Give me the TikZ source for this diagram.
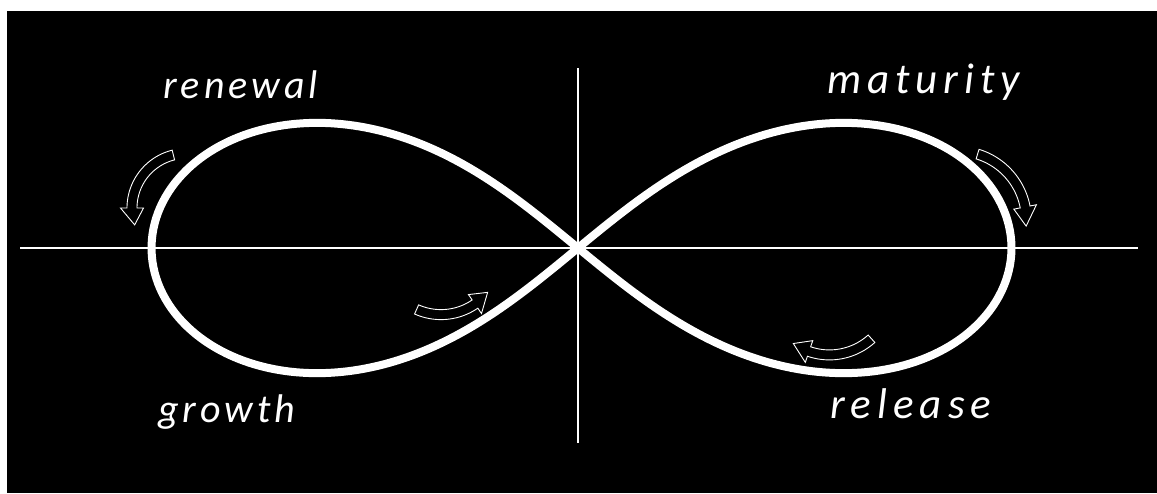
\documentclass[tikz,border=0pt]{standalone}
\usepackage{fontspec}
\newfontfamily\hand{Carlito}[LetterSpace=10]
\newfontfamily\handwide{Carlito}[LetterSpace=14]
\tikzset{
  loopline/.style={white,line width=8pt,line join=round},
  axisline/.style={white,line width=1.3pt},
  arrowline/.style={white,line width=0.9pt,fill=black,line join=miter},
  lbl/.style={white,font=\hand\itshape\fontsize{40}{40}\selectfont,inner sep=0pt},
  lblwide/.style={white,font=\handwide\itshape\fontsize{43}{43}\selectfont,inner sep=0pt}
}
% cx cy r a1 a2 a3 bandwidth headwidth
\newcommand\curvedhollowarrow[8]{%
  \draw[arrowline] plot[domain=#4:#5,samples=40] ({#1+(#3+#7/2)*cos(\x)},{#2+(#3+#7/2)*sin(\x)})
   -- ({#1+(#3+#8/2)*cos(#5)},{#2+(#3+#8/2)*sin(#5)})
   -- ({#1+#3*cos(#6)},{#2+#3*sin(#6)})
   -- ({#1+(#3-#8/2)*cos(#5)},{#2+(#3-#8/2)*sin(#5)})
   -- ({#1+(#3-#7/2)*cos(#5)},{#2+(#3-#7/2)*sin(#5)})
   -- plot[domain=#5:#4,samples=40] ({#1+(#3-#7/2)*cos(\x)},{#2+(#3-#7/2)*sin(\x)})
   -- cycle;}
\begin{document}
\begin{tikzpicture}[x=1pt,y=-1pt]
\useasboundingbox (0,0) rectangle (1157,493);
\fill[black] (7,11) rectangle (1157,493);
% axes
\coordinate (hl) at (20,248);
\coordinate (hr) at (1138,248);
\coordinate (vt) at (578,68);
\coordinate (vb) at (578,443);
\draw[axisline] (hl) -- (hr);
\draw[axisline] (vt) -- (vb);
% infinity loop
\draw[loopline] plot[domain=0:360,samples=400]
  ({578+430*cos(\x)/(1+sin(\x)^2)+3.5*cos(\x)^2},{248+354*sin(\x)*cos(\x)/(1+sin(\x)^2)}) -- cycle;
% arrows
\curvedhollowarrow{186.6}{208}{54.6}{256}{180}{162}{10}{23}
\curvedhollowarrow{441}{254.6}{60}{114}{55.5}{39}{10}{23}
\curvedhollowarrow{829.4}{292}{62.9}{48}{108.9}{125}{10}{23}
\curvedhollowarrow{957.4}{220.1}{69}{-73}{-11}{5}{10}{23}
% labels
\node[lbl,anchor=base west] (renewal) at (163,98) {renewal};
\node[lbl,anchor=base west] (growth) at (158,422) {growth};
\node[lblwide,anchor=base west] (maturity) at (827,93) {maturity};
\node[lblwide,anchor=base west] (release) at (830,418) {release};
\end{tikzpicture}
\end{document}
